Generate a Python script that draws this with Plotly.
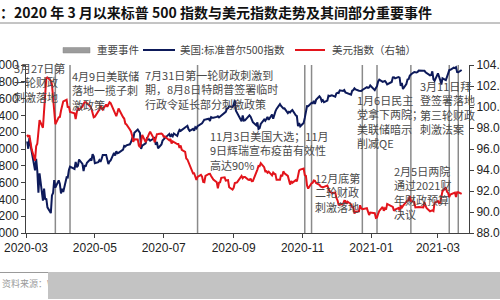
import pandas as pd
import plotly.graph_objects as go

# ---------------- data ----------------
HOLIDAYS = ["2020-04-10", "2020-05-25", "2020-07-03", "2020-09-07", "2020-11-26",
            "2020-12-25", "2021-01-01", "2021-01-18", "2021-02-15"]
dates = pd.bdate_range("2020-03-02", "2021-03-22", freq="C", holidays=HOLIDAYS)

spx_2020_03 = [3090, 3003, 3130, 3024, 2972, 2746, 2882, 2741, 2481, 2711, 2386, 2529, 2398, 2409, 2305,
               2237, 2447, 2476, 2630, 2541, 2627, 2585]
spx_2020_04 = [2471, 2527, 2489, 2664, 2660, 2750, 2790, 2762, 2846, 2783, 2800, 2875, 2823, 2737, 2799,
               2798, 2837, 2878, 2863, 2939, 2912]
spx_2020_05 = [2830, 2842, 2868, 2848, 2881, 2930, 2930, 2870, 2820, 2852, 2864, 2954, 2922, 2972, 2949,
               2955, 2992, 3036, 3030, 3044]
spx_2020_06 = [3056, 3081, 3123, 3112, 3194, 3232, 3207, 3190, 3002, 3041, 3067, 3125, 3113, 3115, 3098,
               3118, 3131, 3050, 3084, 3009, 3053, 3100]
spx_2020_07 = [3116, 3130, 3180, 3145, 3169, 3152, 3185, 3155, 3197, 3227, 3216, 3225, 3251, 3257, 3276,
               3236, 3216, 3239, 3218, 3258, 3246, 3271]
spx_2020_08 = [3295, 3306, 3327, 3349, 3351, 3360, 3333, 3380, 3373, 3373, 3382, 3389, 3375, 3385, 3397,
               3431, 3443, 3478, 3484, 3508, 3500]
spx_2020_09 = [3527, 3580, 3455, 3427, 3331, 3399, 3339, 3341, 3383, 3401, 3385, 3357, 3320, 3282, 3316,
               3237, 3247, 3298, 3351, 3336, 3363]
spx_2020_10 = [3381, 3348, 3409, 3361, 3419, 3447, 3477, 3534, 3512, 3489, 3483, 3484, 3427, 3443, 3436,
               3453, 3465, 3401, 3391, 3271, 3310, 3270]
spx_2020_11 = [3310, 3370, 3443, 3510, 3509, 3550, 3545, 3572, 3537, 3585, 3627, 3610, 3568, 3582, 3558,
               3577, 3635, 3630, 3638, 3622]
spx_2020_12 = [3662, 3669, 3666, 3699, 3692, 3702, 3673, 3668, 3663, 3647, 3694, 3701, 3722, 3709, 3694,
               3687, 3690, 3703, 3735, 3727, 3732, 3756]
spx_2021_01 = [3701, 3726, 3748, 3804, 3825, 3799, 3801, 3810, 3795, 3768, 3798, 3852, 3853, 3841, 3855,
               3849, 3751, 3787, 3714]
spx_2021_02 = [3774, 3826, 3830, 3872, 3887, 3916, 3911, 3910, 3917, 3935, 3933, 3932, 3914, 3907, 3877,
               3881, 3925, 3829, 3811]
spx_2021_03 = [3901, 3871, 3820, 3768, 3842, 3821, 3875, 3898, 3939, 3943, 3969, 3963, 3974, 3915, 3913,
               3940]

dxy_2020_03 = [97.36, 97.14, 97.32, 96.69, 95.97, 94.89, 96.27, 96.50, 97.71, 98.75, 98.02, 99.52, 101.16,
               102.77, 102.82, 102.50, 102.14, 101.07, 99.35, 98.36, 99.01, 99.05]
dxy_2020_04 = [99.64, 100.19, 100.54, 100.69, 99.94, 100.06, 99.52, 99.40, 98.86, 99.50, 99.94, 99.74,
               100.04, 100.30, 100.45, 100.46, 100.37, 100.05, 99.83, 99.50, 99.02]
dxy_2020_05 = [99.07, 99.54, 99.75, 100.19, 99.85, 99.75, 100.24, 100.02, 100.22, 100.45, 100.36, 99.61,
               99.49, 99.13, 99.47, 99.86, 99.03, 98.90, 98.42, 98.34]
dxy_2020_06 = [97.86, 97.67, 97.28, 96.68, 96.92, 96.91, 96.32, 96.16, 96.71, 97.34, 96.66, 96.99, 97.09,
               97.44, 97.64, 97.04, 96.64, 97.08, 97.41, 97.42, 97.47, 97.39]
dxy_2020_07 = [97.17, 97.20, 96.82, 96.96, 96.52, 96.73, 96.66, 96.47, 96.47, 96.10, 96.33, 95.92, 95.73,
               95.09, 95.00, 94.74, 94.43, 93.67, 93.69, 93.43, 93.05, 93.35]
dxy_2020_08 = [93.53, 93.37, 92.86, 92.83, 93.43, 93.62, 93.63, 93.43, 93.31, 93.09, 92.84, 92.25, 92.79,
               92.83, 93.25, 93.30, 93.00, 93.01, 93.04, 92.36, 92.14]
dxy_2020_09 = [92.30, 92.76, 92.79, 92.82, 93.44, 93.22, 93.34, 93.34, 93.06, 93.05, 93.19, 92.93, 92.94,
               93.65, 94.04, 94.38, 94.36, 94.64, 94.27, 93.87, 93.89]
dxy_2020_10 = [93.74, 93.84, 93.48, 93.76, 93.64, 93.60, 93.06, 93.06, 93.54, 93.39, 93.87, 93.68, 93.44,
               93.06, 92.61, 92.95, 92.78, 93.03, 92.93, 93.42, 93.94, 94.04]
dxy_2020_11 = [94.14, 93.51, 93.44, 92.52, 92.23, 92.73, 92.78, 93.00, 92.97, 92.76, 92.59, 92.43, 92.38,
               92.34, 92.39, 92.52, 92.23, 91.99, 91.79, 91.87]
dxy_2020_12 = [91.33, 91.12, 90.70, 90.70, 90.80, 91.06, 91.05, 90.77, 90.98, 90.73, 90.47, 90.46, 89.85,
               90.02, 90.07, 90.64, 90.37, 90.27, 90.36, 89.96, 89.71, 89.94]
dxy_2021_01 = [89.88, 89.43, 89.47, 89.83, 90.10, 90.48, 90.11, 90.35, 90.23, 90.77, 90.52, 90.49, 90.12,
               90.24, 90.37, 90.15, 90.62, 90.42, 90.58]
dxy_2021_02 = [91.02, 91.10, 91.09, 91.52, 91.04, 90.94, 90.43, 90.44, 90.42, 90.48, 90.44, 90.94, 90.59,
               90.36, 90.07, 90.14, 90.15, 90.08, 90.87]
dxy_2021_03 = [91.04, 90.83, 90.92, 91.64, 91.97, 92.33, 91.93, 91.82, 91.41, 91.67, 91.83, 91.85, 91.43,
               91.88, 91.88, 91.72]

event_dates = ["2020-03-27", "2020-04-09", "2020-07-31", "2020-11-03", "2020-11-09",
               "2020-12-24", "2021-01-06", "2021-02-05", "2021-03-11", "2021-03-19"]

event_texts = [
    "3月27日第<br>一轮财政<br>刺激落地",
    "4月9日美联储<br>落地一揽子刺<br>激政策",
    "7月31日第一轮财政刺激到<br>期，8月8日特朗普签署临时<br>行政令延长部分刺激政策",
    "11月3日美国大选；11月<br>9日辉瑞宣布疫苗有效性<br>高达90%",
    "12月底第<br>二轮财政<br>刺激落地",
    "1月6日民主<br>党拿下两院；<br>美联储暗示<br>削减QE",
    "3月11日拜<br>登签署落地<br>第三轮财政<br>刺激法案",
    "2月5日两院<br>通过2021财<br>年财政预算<br>决议",
]

spx = (spx_2020_03 + spx_2020_04 + spx_2020_05 + spx_2020_06 + spx_2020_07 + spx_2020_08 +
       spx_2020_09 + spx_2020_10 + spx_2020_11 + spx_2020_12 + spx_2021_01 + spx_2021_02 + spx_2021_03)
dxy = (dxy_2020_03 + dxy_2020_04 + dxy_2020_05 + dxy_2020_06 + dxy_2020_07 + dxy_2020_08 +
       dxy_2020_09 + dxy_2020_10 + dxy_2020_11 + dxy_2020_12 + dxy_2021_01 + dxy_2021_02 + dxy_2021_03)
if not (len(dates) == len(spx) == len(dxy)):
    raise SystemExit(f"length mismatch {len(dates)} {len(spx)} {len(dxy)}")

# ---------------- layout helpers (pixel -> paper) ----------------
W, H = 500, 300
def px(x):
    return x / W
def py(y):
    return 1 - y / H

NAVY = "#0d1a5a"
RED = "#e3141b"
CJK = "Noto Sans CJK SC"
LAT = "Liberation Sans"

fig = go.Figure()
fig.add_trace(go.Scatter(x=dates, y=spx, mode="lines", line=dict(color=NAVY, width=2),
                         showlegend=False, xaxis="x", yaxis="y"))
fig.add_trace(go.Scatter(x=dates, y=dxy, mode="lines", line=dict(color=RED, width=2),
                         showlegend=False, xaxis="x", yaxis="y2"))

shapes = []
for d in event_dates:
    shapes.append(dict(type="line", xref="x", yref="y domain", x0=d, x1=d, y0=0, y1=1,
                       line=dict(color="#8a8a8a", width=1.5), layer="below"))
# footer block (grey)
shapes.append(dict(type="rect", xref="paper", yref="paper", x0=px(48), x1=px(500), y0=py(299), y1=py(272),
                   fillcolor="#c3c3c3", line=dict(width=0), layer="above"))
# title underline
shapes.append(dict(type="line", xref="paper", yref="paper", x0=0, x1=1, y0=py(23), y1=py(23),
                   line=dict(color="#8a8a8a", width=1)))
# footer line at left
shapes.append(dict(type="line", xref="paper", yref="paper", x0=0, x1=px(48), y0=py(272.5), y1=py(272.5),
                   line=dict(color="#9a9a9a", width=1)))
# manual legend
shapes.append(dict(type="rect", xref="paper", yref="paper", x0=px(63), x1=px(90), y0=py(53), y1=py(47.5),
                   fillcolor="#9c9c9c", line=dict(color="#8a8a8a", width=0.5)))
shapes.append(dict(type="line", xref="paper", yref="paper", x0=px(143), x1=px(175), y0=py(50), y1=py(50),
                   line=dict(color=NAVY, width=2)))
shapes.append(dict(type="line", xref="paper", yref="paper", x0=px(295), x1=px(325), y0=py(50), y1=py(50),
                   line=dict(color=RED, width=2)))

annotations = []
annotations.append(dict(text="：2020 年 3 月以来标普 500 指数与美元指数走势及其间部分重要事件",
                        x=px(-2), y=py(12), xref="paper", yref="paper", xanchor="left", yanchor="middle",
                        showarrow=False, font=dict(family=CJK, size=14, color="#111111", weight="bold")))
for t, xx in [("重要事件", 95), ("美国:标准普尔500指数", 178), ("美元指数（右轴）", 330)]:
    annotations.append(dict(text=t, x=px(xx), y=py(50), xref="paper", yref="paper", xanchor="left",
                            yanchor="middle", showarrow=False,
                            font=dict(family=CJK, size=10.5, color="#444444")))

text_pos = [(12, 58), (70, 66), (143, 65), (208, 126), (313, 168), (355, 90), (418, 76), (392, 161)]
for t, (xx, yy) in zip(event_texts, text_pos):
    annotations.append(dict(text=t, x=px(xx), y=py(yy), xref="paper", yref="paper", xanchor="left",
                            yanchor="top", align="left", showarrow=False,
                            font=dict(family=CJK, size=11, color="#4a4a4a")))
annotations.append(dict(text="资料来源：W", x=px(0), y=py(283), xref="paper", yref="paper",
                        xanchor="left", yanchor="middle", showarrow=False,
                        font=dict(family=CJK, size=9, color="#9a9a9a")))
# footer block also as a background-filled annotation box
annotations.append(dict(text=" ", x=px(48), y=py(272), xref="paper", yref="paper",
                        xanchor="left", yanchor="top", showarrow=False, width=452, height=27,
                        bgcolor="#c3c3c3", borderpad=0, borderwidth=0,
                        font=dict(family=LAT, size=10, color="#c3c3c3")))

axis_common = dict(showline=True, linecolor="#404040", linewidth=1, ticks="outside", ticklen=4,
                   tickcolor="#404040", showgrid=False, zeroline=False, automargin=False,
                   tickfont=dict(family=LAT, size=12, color="#222222"))

fig.update_layout(
    width=W, height=H, margin=dict(l=0, r=0, t=0, b=0),
    paper_bgcolor="white", plot_bgcolor="white", showlegend=False,
    xaxis=dict(domain=[px(26), px(469)], range=["2020-03-01", "2021-03-28 12:00"],
               tick0="2020-03-01", dtick="M2", tickformat="%Y-%m", anchor="y", **axis_common),
    yaxis=dict(domain=[py(233), py(65)], range=[2000, 4000], dtick=200, tickformat="d",
               anchor="x", **axis_common),
    yaxis2=dict(domain=[py(233), py(65)], range=[88, 104], dtick=2, tickformat=".2f",
                overlaying="y", side="right", anchor="x", **axis_common),
    shapes=shapes, annotations=annotations,
)

fig.write_html("out.html")
